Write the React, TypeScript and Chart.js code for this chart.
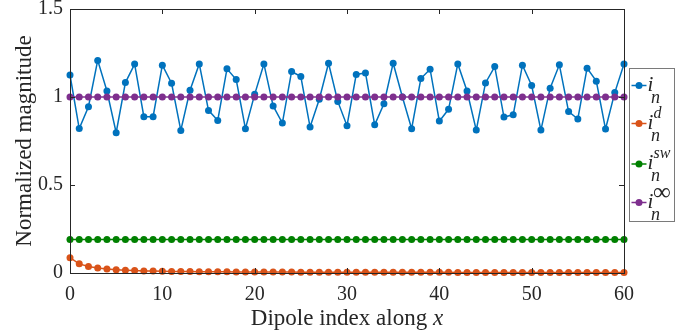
import React, { useEffect, useRef } from "react";
import { Chart, registerables } from "chart.js";

Chart.register(...registerables);

const dipoleIndex: number[] = Array.from({ length: 61 }, (_, i) => i);

const iN: number[] = [
  1.125, 0.821, 0.945, 1.208, 1.034, 0.797, 1.082, 1.187, 0.888, 0.888,
  1.181, 1.078, 0.81, 1.038, 1.188, 0.924, 0.867, 1.16, 1.099, 0.82,
  1.015, 1.188, 0.949, 0.852, 1.145, 1.116, 0.829, 0.987, 1.192, 0.975,
  0.837, 1.128, 1.137, 0.842, 0.962, 1.192, 1.0, 0.82, 1.105, 1.158,
  0.863, 0.93, 1.188, 1.034, 0.812, 1.08, 1.173, 0.886, 0.899, 1.181,
  1.065, 0.812, 1.05, 1.183, 0.917, 0.875, 1.164, 1.09, 0.818, 1.025,
  1.188,
];

const iND: number[] = [
  0.087, 0.052, 0.037, 0.029, 0.023, 0.019, 0.016, 0.014, 0.012, 0.011,
  0.01, 0.009, 0.0085, 0.008, 0.0075, 0.007, 0.0068, 0.0065, 0.0062, 0.006,
  0.0058, 0.0056, 0.0054, 0.0052, 0.005, 0.0049, 0.0048, 0.0047, 0.0046, 0.0045,
  0.0044, 0.0043, 0.0042, 0.0041, 0.004, 0.0039, 0.0039, 0.0038, 0.0037, 0.0037,
  0.0036, 0.0036, 0.0035, 0.0035, 0.0034, 0.0034, 0.0033, 0.0033, 0.0032, 0.0032,
  0.0031, 0.0031, 0.0031, 0.003, 0.003, 0.003, 0.0029, 0.0029, 0.0029, 0.0028,
  0.0028,
];

const iNSW: number[] = dipoleIndex.map(() => 0.19);
const iNInf: number[] = dipoleIndex.map(() => 1.0);

const legendSupers: string[] = ["", "d", "sw", "\u221E"];
const colors = ["#0072BD", "#D95319", "#008000", "#7E2F8E"];

const SERIF = "'Liberation Serif', 'DejaVu Serif', serif";
const AXIS_COLOR = "#262626";

const decorPlugin = {
  id: "decor",
  afterDraw(chart: any) {
    const ctx = chart.ctx;
    const { left, right, top, bottom } = chart.chartArea;
    const xs = chart.scales.x;
    const ys = chart.scales.y;
    ctx.save();
    ctx.strokeStyle = AXIS_COLOR;
    ctx.lineWidth = 1;
    ctx.strokeRect(Math.round(left) + 0.5, Math.round(top) + 0.5, Math.round(right - left), Math.round(bottom - top));
    const tl = 5;
    ctx.beginPath();
    xs.ticks.forEach((t: any) => {
      const px = Math.round(xs.getPixelForValue(t.value)) + 0.5;
      ctx.moveTo(px, bottom);
      ctx.lineTo(px, bottom - tl);
      ctx.moveTo(px, top);
      ctx.lineTo(px, top + tl);
    });
    ys.ticks.forEach((t: any) => {
      const py = Math.round(ys.getPixelForValue(t.value)) + 0.5;
      ctx.moveTo(left, py);
      ctx.lineTo(left + tl, py);
      ctx.moveTo(right, py);
      ctx.lineTo(right - tl, py);
    });
    ctx.stroke();

    // x title with italic x
    ctx.fillStyle = AXIS_COLOR;
    ctx.textBaseline = "alphabetic";
    const part1 = "Dipole index along ";
    const part2 = "x";
    ctx.font = `23px ${SERIF}`;
    const w1 = ctx.measureText(part1).width;
    ctx.font = `italic 23px ${SERIF}`;
    const w2 = ctx.measureText(part2).width;
    const cx = (left + right) / 2;
    const sx = cx - (w1 + w2) / 2;
    ctx.font = `23px ${SERIF}`;
    ctx.textAlign = "left";
    ctx.fillText(part1, sx, 325);
    ctx.font = `italic 23px ${SERIF}`;
    ctx.fillText(part2, sx + w1, 325);

    // legend
    const bx = 629.5, by = 68.5, bw = 45, bh = 153;
    ctx.fillStyle = "#ffffff";
    ctx.fillRect(bx, by, bw, bh);
    ctx.strokeStyle = "#7a7a7a";
    ctx.lineWidth = 1;
    ctx.strokeRect(bx, by, bw, bh);
    const ys0 = [85.5, 123.5, 164, 202.5];
    chart.data.datasets.forEach((ds: any, i: number) => {
      const y = ys0[i];
      ctx.strokeStyle = ds.borderColor;
      ctx.lineWidth = 1.5;
      ctx.beginPath();
      ctx.moveTo(631.5, y);
      ctx.lineTo(646.5, y);
      ctx.stroke();
      ctx.fillStyle = ds.borderColor;
      ctx.beginPath();
      ctx.arc(639, y, 3.5, 0, Math.PI * 2);
      ctx.fill();
      ctx.fillStyle = AXIS_COLOR;
      ctx.textAlign = "left";
      ctx.font = `italic 21px ${SERIF}`;
      ctx.fillText("i", 647.5, y + 5);
      ctx.font = `italic 18px ${SERIF}`;
      ctx.fillText("n", 651, y + 17);
      const sup = legendSupers[i];
      if (sup) {
        if (sup === "\u221E") {
          ctx.font = `25px ${SERIF}`;
          ctx.fillText(sup, 653, y - 3);
        } else {
          ctx.font = `italic 16px ${SERIF}`;
          ctx.fillText(sup, 653.5, y - 6);
        }
      }
    });
    ctx.restore();
  },
};

export default function App() {
  const ref = useRef<HTMLCanvasElement | null>(null);
  useEffect(() => {
    if (!ref.current) return;
    const mk = (label: string, data: number[], color: string, order: number) => ({
      label,
      data,
      borderColor: color,
      backgroundColor: color,
      borderWidth: 1.5,
      pointRadius: 3.5,
      pointBorderWidth: 0,
      pointBackgroundColor: color,
      pointHoverRadius: 3.5,
      tension: 0,
      clip: false,
      order,
    });
    const chart = new Chart(ref.current, {
      type: "line",
      data: {
        labels: dipoleIndex,
        datasets: [
          mk("i_n", iN, colors[0], 4),
          mk("i_n^d", iND, colors[1], 3),
          mk("i_n^sw", iNSW, colors[2], 2),
          mk("i_n^inf", iNInf, colors[3], 1),
        ],
      },
      options: {
        animation: false,
        responsive: false,
        events: [],
        layout: { padding: { left: 0, right: 73, top: 9, bottom: 0 } },
        plugins: { legend: { display: false }, tooltip: { enabled: false } },
        scales: {
          x: {
            type: "linear",
            min: 0,
            max: 60,
            grid: { display: false, drawTicks: false },
            border: { display: false },
            ticks: {
              stepSize: 10,
              autoSkip: false,
              maxRotation: 0,
              padding: 10,
              color: AXIS_COLOR,
              font: { family: SERIF, size: 20 },
            },
            afterFit: (s: any) => {
              s.height = 62;
              s.paddingLeft = 0;
              s.paddingRight = 0;
            },
          },
          y: {
            type: "linear",
            min: 0,
            max: 1.5,
            grid: { display: false, drawTicks: false },
            border: { display: false },
            ticks: {
              stepSize: 0.5,
              padding: 7,
              color: AXIS_COLOR,
              font: { family: SERIF, size: 20 },
              callback: (v: any) => String(Math.round(Number(v) * 10) / 10),
            },
            title: {
              display: true,
              text: "Normalized magnitude",
              color: AXIS_COLOR,
              font: { family: SERIF, size: 23 },
              padding: { top: 11, bottom: 0 },
            },
            afterFit: (s: any) => {
              s.width = 70;
              s.paddingTop = 0;
              s.paddingBottom = 0;
            },
          },
        },
      },
      plugins: [decorPlugin],
    } as any);
    return () => chart.destroy();
  }, []);
  return (
    <div style={{ position: "fixed", left: 0, top: 0, width: 697, height: 335, background: "#fff" }}>
      <canvas ref={ref} width={697} height={335} style={{ width: 697, height: 335, display: "block" }} />
    </div>
  );
}
